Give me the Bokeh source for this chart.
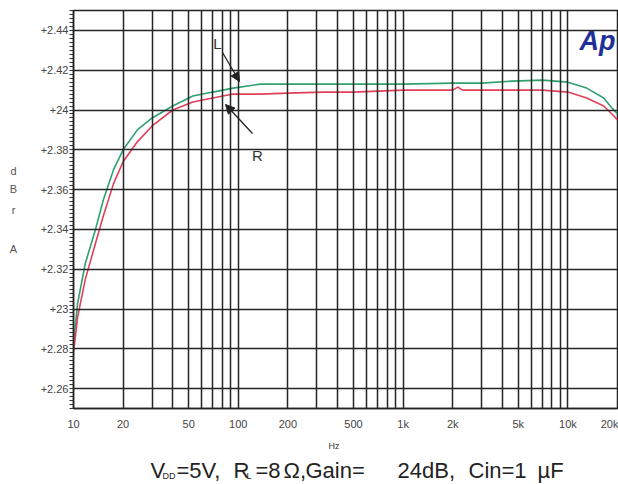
import numpy as np
from bokeh.plotting import figure
from bokeh.layouts import column, row
from bokeh.models import FixedTicker, Label, Arrow, NormalHead, Range1d
from bokeh.embed import file_html
from bokeh.resources import INLINE

# ---------------- data ----------------
freq_hz = [10, 10.6, 11.8, 13.6, 15.2, 17.5, 20, 24.4, 30, 40, 53, 70, 93, 136,
           200, 328, 500, 1000, 2000, 2150, 2300, 3000, 4600, 7000, 10000,
           13000, 16500, 18500, 20000]
left_dbra = [22.83, 23.03, 23.23, 23.40, 23.55, 23.70, 23.80, 23.90, 23.96, 24.02,
             24.07, 24.09, 24.11, 24.13, 24.13, 24.13, 24.13, 24.13, 24.135, 24.135,
             24.135, 24.135, 24.145, 24.15, 24.14, 24.11, 24.06, 24.01, 23.98]
right_dbra = [22.78, 22.96, 23.15, 23.33, 23.47, 23.63, 23.74, 23.84, 23.92, 24.00,
              24.04, 24.06, 24.08, 24.08, 24.085, 24.09, 24.09, 24.10, 24.10, 24.115,
              24.10, 24.10, 24.10, 24.10, 24.09, 24.06, 24.02, 23.98, 23.95]

x_major = [10, 20, 50, 100, 200, 500, 1000, 2000, 5000, 10000, 20000]
x_labels = ["10", "20", "50", "100", "200", "500", "1k", "2k", "5k", "10k", "20k"]
x_grid = [m * d for d in (10, 100, 1000) for m in range(1, 10)] + [10000, 20000]

y_major = [22.6, 22.8, 23.0, 23.2, 23.4, 23.6, 23.8, 24.0, 24.2, 24.4]
y_labels = ["+2.26", "+2.28", "+23", "+2.32", "+2.34", "+2.36", "+2.38", "+24", "+2.42", "+2.44"]
y_minor = [round(22.5 + 0.02 * k, 2) for k in range(101)]

y_title_letters = ["d", "B", "r", "A"]
caption_parts = ["V", "DD", "=5V,", "R", "L", "=8", "Ω,", "Gain=", "24dB,", "Cin=1", "µF"]
caption_sub = [False, True, False, False, True, False, False, False, False, False, False]
x_unit = "Hz"

X0, X1 = 10, 20000
Y0, Y1 = 22.5, 24.5

FONT = "Liberation Sans"
INK = "#222222"

# ---------------- page geometry ----------------
STRIP_W = 20
MAIN_W, MAIN_H = 598, 434
CAP_H = 484 - MAIN_H
FR_L, FR_T, FR_W, FR_H = 73, 10, 544, 398   # frame in page pixels
FR_B = FR_T + FR_H


def px_x(px):
    return 10 ** (np.log10(X0) + (px - FR_L) / FR_W * (np.log10(X1) - np.log10(X0)))


def px_y(py):
    return Y1 - (py - FR_T) / FR_H * (Y1 - Y0)


def blank_fig(w, h, xr, yr, top=0, bottom=0):
    f = figure(width=w, height=h, x_range=xr, y_range=yr,
               x_axis_location=None, y_axis_location=None,
               output_backend="svg", toolbar_location=None,
               min_border_left=0, min_border_right=0,
               min_border_top=top, min_border_bottom=bottom)
    f.grid.visible = False
    f.outline_line_color = None
    f.background_fill_color = "white"
    f.border_fill_color = "white"
    return f


# ---------------- main chart ----------------
p = figure(width=MAIN_W, height=MAIN_H, x_axis_type="log",
           x_range=Range1d(X0, X1), y_range=Range1d(Y0, Y1),
           output_backend="svg", toolbar_location=None,
           min_border_left=FR_L - STRIP_W, min_border_right=MAIN_W - (FR_L - STRIP_W) - FR_W,
           min_border_top=FR_T, min_border_bottom=MAIN_H - FR_B)
p.background_fill_color = "white"
p.border_fill_color = "white"
p.outline_line_color = INK
p.outline_line_width = 1.5

p.line(freq_hz, left_dbra, line_color="#2fa070", line_width=1.6)
p.line(freq_hz, right_dbra, line_color="#e2405a", line_width=1.6)

xa = p.xaxis[0]
xa.ticker = FixedTicker(ticks=x_major)
xa.major_label_overrides = {float(t): l for t, l in zip(x_major, x_labels)}
xa.major_tick_out = 0
xa.major_tick_in = 0
xa.minor_tick_out = 0
xa.minor_tick_in = 0
xa.major_label_standoff = 9
xa.major_label_text_font = FONT
xa.major_label_text_font_size = "11px"
xa.major_label_text_color = "#444444"
xa.axis_line_color = INK
xa.axis_line_width = 1.5

ya = p.yaxis[0]
ya.ticker = FixedTicker(ticks=y_major, minor_ticks=y_minor)
ya.major_label_overrides = {t: l for t, l in zip(y_major, y_labels)}
ya.major_tick_out = 0
ya.major_tick_in = 0
ya.minor_tick_out = 4
ya.minor_tick_in = 0
ya.minor_tick_line_color = "#333333"
ya.major_label_standoff = 1
ya.major_label_text_font = FONT
ya.major_label_text_font_size = "11px"
ya.major_label_text_color = "#444444"
ya.axis_line_color = INK
ya.axis_line_width = 1.5

p.xgrid.ticker = FixedTicker(ticks=x_grid)
p.ygrid.ticker = FixedTicker(ticks=y_major)
for g in (p.xgrid[0], p.ygrid[0]):
    g.grid_line_color = "#262626"
    g.grid_line_width = 1.5
    g.grid_line_alpha = 1.0
    g.level = "guide"


def main_label(px, py, text, size, color=INK, baseline="alphabetic", align="left", style="normal"):
    p.add_layout(Label(x=px_x(px), y=px_y(py), text=text,
                       text_font=FONT, text_font_size=size, text_color=color,
                       text_baseline=baseline, text_align=align, text_font_style=style))


main_label(217, 43, "L", "15px", color="#333333", baseline="middle", align="center")
main_label(257, 155, "R", "15px", color="#333333", baseline="middle", align="center")
arrows = [((222, 52), (239, 81)), ((252, 133), (225, 104))]
for (x0, y0), (x1, y1) in arrows:
    p.add_layout(Arrow(end=NormalHead(size=9, fill_color=INK, line_color=INK),
                       x_start=px_x(x0), y_start=px_y(y0), x_end=px_x(x1), y_end=px_y(y1),
                       line_color=INK, line_width=1.3))

main_label(579, 40, "Ap", "27px", color="#1f2f9a", style="bold italic")

# ---------------- left strip: stacked y title (frame aligned with main frame) ----------------
strip = blank_fig(STRIP_W, MAIN_H, Range1d(0, STRIP_W), Range1d(FR_B, FR_T),
                  top=FR_T, bottom=MAIN_H - FR_B)
for ch, py in zip(y_title_letters, [170, 188, 209, 248]):
    strip.add_layout(Label(x=13, y=py, text=ch, text_font=FONT, text_font_size="11px",
                           text_color="#555555", text_baseline="middle", text_align="center"))

# ---------------- caption ----------------
cap = blank_fig(STRIP_W + MAIN_W, CAP_H, Range1d(0, STRIP_W + MAIN_W), Range1d(484, MAIN_H))
cap_x = [150, 162, 176, 233, 246, 255, 283, 305, 397, 468, 537]
for text, sub, cx in zip(caption_parts, caption_sub, cap_x):
    cap.add_layout(Label(x=cx, y=475 if sub else 470, text=text, text_font=FONT,
                         text_font_size="9px" if sub else "22px", text_color=INK,
                         text_baseline="alphabetic", text_align="left"))
cap.add_layout(Label(x=328, y=445, text=x_unit, text_font=FONT, text_font_size="9px",
                     text_color="#333333", text_baseline="alphabetic", text_align="left"))

layout = column(row(strip, p, spacing=0), cap, spacing=0)

open("out.html", "w").write(file_html(layout, INLINE))
